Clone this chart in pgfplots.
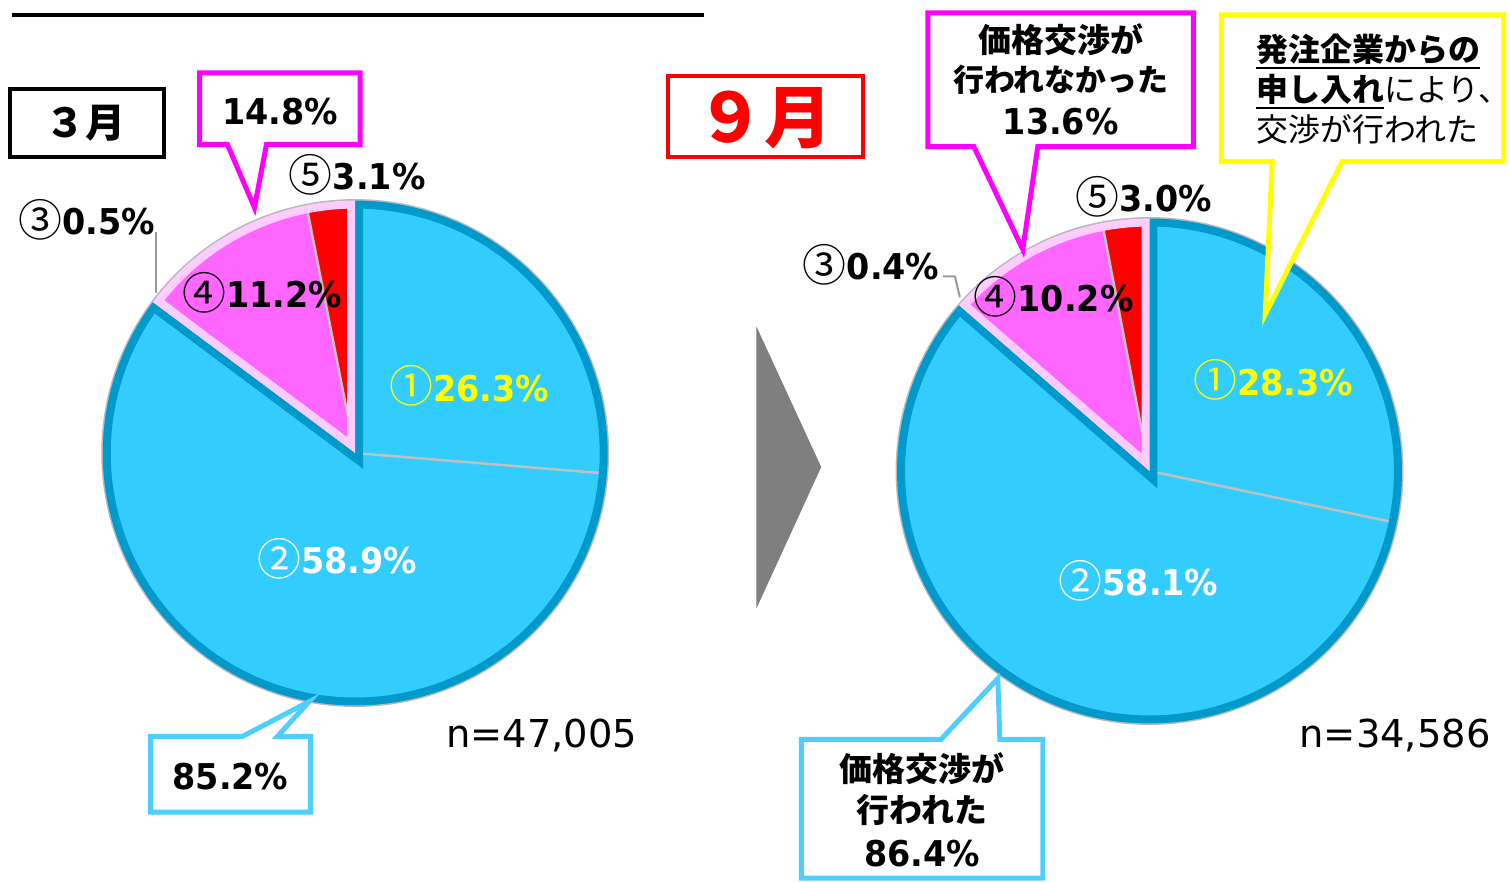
\documentclass[border=0pt]{standalone}
\usepackage{pgfplots}
\pgfplotsset{compat=1.18}
\usepackage{fontspec}
\setmainfont{DejaVu Sans}
\newfontfamily\bnum{DejaVu Sans}[FakeStretch=0.94]
\newfontfamily\jp{Noto Sans CJK JP}
\definecolor{pieblue}{HTML}{33CCFF}
\definecolor{borderblue}{HTML}{0099CC}
\definecolor{piemag}{HTML}{FF66FF}
\definecolor{pinkb}{HTML}{FFCCFF}
\definecolor{sepgray}{HTML}{C0C0C0}
\definecolor{callmag}{HTML}{FF00FF}
\definecolor{callblue}{RGB}{80,206,255}
\definecolor{callyel}{HTML}{FFFF00}
\definecolor{arrowgray}{HTML}{7F7F7F}
% ---- data (percent) ----
% March
\def\Ma{26.3}\def\Mb{58.9}\def\Mc{0.5}\def\Md{11.2}\def\Me{3.1}
% September
\def\Sa{28.3}\def\Sb{58.1}\def\Sc{0.4}\def\Sd{10.2}\def\Se{3.0}
\pgfmathsetmacro\MAB{\Ma+\Mb}\pgfmathsetmacro\MABC{\MAB+\Mc}\pgfmathsetmacro\MABCD{\MABC+\Md}
\pgfmathsetmacro\SAB{\Sa+\Sb}\pgfmathsetmacro\SABC{\SAB+\Sc}\pgfmathsetmacro\SABCD{\SABC+\Sd}
\newcommand\sector[4]{(axis cs:#1,#2) -- ++({90-3.6*(#3)}:253pt) arc[start angle={90-3.6*(#3)}, end angle={90-3.6*(#4)}, radius=253pt] -- cycle}
\newcommand\drawpie[6]{%
 \fill[pieblue] \sector{#1}{#2}{0}{#3};
 \fill[pieblue] \sector{#1}{#2}{#3}{#4};
 \fill[pinkb] \sector{#1}{#2}{#4}{#5};
 \fill[piemag] \sector{#1}{#2}{#5}{#6};
 \fill[red] \sector{#1}{#2}{#6}{100};
 \draw[sepgray, line width=2.5pt] (axis cs:#1,#2) -- ++({90-3.6*(#3)}:253pt);
 \draw[sepgray, line width=2.5pt] (axis cs:#1,#2) -- ++({90-3.6*(#5)}:253pt);
 \draw[sepgray, line width=2.5pt] (axis cs:#1,#2) -- ++({90-3.6*(#6)}:253pt);
 \draw[gray!55, line width=3pt] (axis cs:#1,#2) circle[radius=253pt];
 \begin{scope}
  \clip \sector{#1}{#2}{0}{#4};
  \draw[borderblue, line width=16pt, line join=miter] \sector{#1}{#2}{0}{#4};
 \end{scope}
 \begin{scope}
  \clip \sector{#1}{#2}{#4}{100};
  \draw[pinkb, line width=16pt, line join=miter] \sector{#1}{#2}{#4}{100};
 \end{scope}
}
\newcommand\lab[2]{{\jp\fontsize{44}{46}\selectfont\raisebox{-1.5pt}{#1}}{\bnum\bfseries #2}}
\newcommand\ul[1]{\setbox0\hbox{#1}\rlap{\rule[-7pt]{\wd0}{2pt}}\box0}
\begin{document}
\begin{tikzpicture}
\begin{axis}[x=1pt, y=1pt, xmin=0, xmax=1510, ymin=0, ymax=883, y dir=reverse,
  hide axis, clip=false, anchor=south west, at={(0,0)}]
\path (axis cs:0,0) rectangle (axis cs:1510,883);
% top rule and titles
\draw[black, line width=4pt] (axis cs:12,15) -- (axis cs:706,15);
\draw[black, line width=4pt] (axis cs:10,89) rectangle (axis cs:164,157);
\node[font=\jp\bfseries\fontsize{40}{44}\selectfont] at (axis cs:86,123) {３月};
\draw[red, line width=4pt] (axis cs:669,76) rectangle (axis cs:865,157);
\node[font=\jp\bfseries\fontsize{68}{72}\selectfont, text=red] at (axis cs:766,118) {９月};
% arrow
\fill[arrowgray] (axis cs:758,327) -- (axis cs:823,468) -- (axis cs:758,610) -- cycle;
% pies
\drawpie{356}{454}{\Ma}{\MAB}{\MABC}{\MABCD}
\drawpie{1152}{472}{\Sa}{\SAB}{\SABC}{\SABCD}
% leader lines for tiny slices
\draw[sepgray!80!black, line width=2pt] (axis cs:156,233) -- (axis cs:156,294);
\draw[sepgray!80!black, line width=2pt] (axis cs:945,277) -- (axis cs:957,277) -- (axis cs:962,298);
% slice labels (March)
\tikzset{lbl/.style={inner sep=0pt, font=\fontsize{35.6}{40}\selectfont}}
\node[lbl] at (axis cs:358,175) {\lab{⑤}{3.1\%}};
\node[lbl] at (axis cs:87,220) {\lab{③}{0.5\%}};
\node[lbl] at (axis cs:263,293) {\lab{④}{11.2\%}};
\node[lbl, text=callyel] at (axis cs:470,387) {\lab{①}{26.3\%}};
\node[lbl, text=white] at (axis cs:338,560) {\lab{②}{58.9\%}};
% slice labels (September)
\node[lbl] at (axis cs:1146,197) {\lab{⑤}{3.0\%}};
\node[lbl] at (axis cs:873,265) {\lab{③}{0.4\%}};
\node[lbl] at (axis cs:1056,297) {\lab{④}{10.2\%}};
\node[lbl, text=callyel] at (axis cs:1276,381) {\lab{①}{28.3\%}};
\node[lbl, text=white] at (axis cs:1141,582) {\lab{②}{58.1\%}};
% n labels
\node[inner sep=0pt, font=\fontsize{38.5}{42}\selectfont] at (axis cs:543,737) {n=47,005};
\node[inner sep=0pt, font=\fontsize{38.5}{42}\selectfont] at (axis cs:1398,737) {n=34,586};
% callouts March
\draw[callmag, line width=5pt, fill=white, line join=miter] (axis cs:200,73) -- (axis cs:361,73) -- (axis cs:361,145) -- (axis cs:267,145) -- (axis cs:255,208) -- (axis cs:228,145) -- (axis cs:200,145) -- cycle;
\node[lbl] at (axis cs:281,112) {\bnum\bfseries 14.8\%};
\draw[callblue, line width=5pt, fill=white, line join=miter] (axis cs:151,738) -- (axis cs:243,738) -- (axis cs:310,703) -- (axis cs:278,738) -- (axis cs:311,738) -- (axis cs:311,814) -- (axis cs:151,814) -- cycle;
\node[lbl] at (axis cs:231,778) {\bnum\bfseries 85.2\%};
% callouts September
\draw[callmag, line width=5pt, fill=white, line join=miter] (axis cs:930,13) -- (axis cs:1196,13) -- (axis cs:1196,147) -- (axis cs:1040,147) -- (axis cs:1025,250) -- (axis cs:976,147) -- (axis cs:930,147) -- cycle;
\node[inner sep=0pt, font=\jp\bfseries\fontsize{33}{36}\selectfont] at (axis cs:1063,40) {価格交渉が};
\node[inner sep=0pt, font=\jp\bfseries\fontsize{31}{36}\selectfont] at (axis cs:1063,80) {行われなかった};
\node[lbl] at (axis cs:1063,122) {\bnum\bfseries 13.6\%};
\draw[callyel, line width=5pt, fill=white, line join=miter] (axis cs:1224,15) -- (axis cs:1507,15) -- (axis cs:1507,162) -- (axis cs:1345,162) -- (axis cs:1268,315) -- (axis cs:1275,162) -- (axis cs:1224,162) -- cycle;
\node[inner sep=0pt, anchor=base west, font=\jp\fontsize{32}{36}\selectfont] at (axis cs:1259,62) {\ul{\bfseries 発注企業からの}};
\node[inner sep=0pt, anchor=base west, font=\jp\fontsize{32}{36}\selectfont] at (axis cs:1259,102) {\ul{\bfseries 申し入れ}により、};
\node[inner sep=0pt, anchor=base west, font=\jp\fontsize{32}{36}\selectfont] at (axis cs:1259,142) {交渉が行われた};
\draw[callblue, line width=5pt, fill=white, line join=miter] (axis cs:803,741) -- (axis cs:943,741) -- (axis cs:1000,680) -- (axis cs:1002,741) -- (axis cs:1045,741) -- (axis cs:1045,880) -- (axis cs:803,880) -- cycle;
\node[inner sep=0pt, font=\jp\bfseries\fontsize{33}{36}\selectfont] at (axis cs:924,770) {価格交渉が};
\node[inner sep=0pt, font=\jp\bfseries\fontsize{33}{36}\selectfont] at (axis cs:924,812) {行われた};
\node[lbl] at (axis cs:924,855) {\bnum\bfseries 86.4\%};
\end{axis}
\end{tikzpicture}
\end{document}
